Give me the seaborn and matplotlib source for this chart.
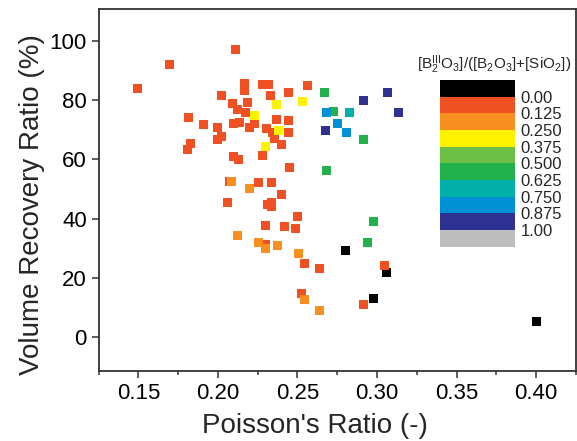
import numpy as np
import pandas as pd
import matplotlib
matplotlib.use("Agg")
import matplotlib.pyplot as plt
import seaborn as sns
from matplotlib.colors import ListedColormap, BoundaryNorm
from matplotlib.cm import ScalarMappable
from matplotlib.ticker import MultipleLocator

# Poisson's ratio / volume recovery ratio, grouped by [BIII2O3]/([B2O3]+[SiO2])
x_000 = [0.280, 0.306, 0.298, 0.400]
y_000 = [29.1, 22.0, 13.0, 5.2]

x_125 = [0.1495, 0.1697, 0.2108, 0.1816, 0.1906, 0.2000, 0.2020, 0.2093, 0.2100, 0.2135,
         0.2020, 0.1995, 0.2169, 0.2169, 0.2282, 0.2320, 0.2333, 0.2442, 0.2561, 0.2188,
         0.2121, 0.2173, 0.2368, 0.2441, 0.2198, 0.2230, 0.2307, 0.2346, 0.2442, 0.2356,
         0.2398, 0.1827, 0.1810, 0.2100, 0.2131, 0.2277, 0.2450, 0.2072, 0.2257, 0.2339,
         0.2398, 0.2057, 0.2314, 0.2339, 0.2339, 0.2497, 0.2296, 0.2421, 0.2489, 0.2297,
         0.2547, 0.2639, 0.2528, 0.3050, 0.2918]
y_125 = [83.8, 91.9, 97.0, 74.3, 71.9, 70.9, 81.5, 79.0, 72.0, 72.3,
         67.7, 66.8, 85.7, 83.1, 85.2, 85.2, 81.5, 82.4, 85.0, 79.2,
         76.7, 75.8, 73.6, 73.0, 70.9, 72.0, 70.5, 69.0, 69.0, 67.2,
         64.9, 65.3, 63.5, 61.1, 60.1, 61.4, 57.1, 52.7, 52.3, 52.3,
         48.1, 45.6, 44.7, 45.4, 44.0, 40.9, 37.8, 37.5, 36.8, 31.4,
         24.9, 23.3, 14.6, 24.1, 11.2]

x_250 = [0.2087, 0.2198, 0.2120, 0.2258, 0.2297, 0.2377, 0.2509, 0.2547, 0.2639]
y_250 = [52.7, 50.3, 34.3, 32.0, 30.1, 30.8, 28.1, 12.6, 9.0]

x_375 = [0.2227, 0.2368, 0.2534, 0.2379, 0.2301]
y_375 = [74.9, 78.4, 79.7, 69.6, 64.5]

x_625 = [0.2671, 0.2727, 0.2912, 0.2680, 0.2981, 0.2937]
y_625 = [82.7, 76.0, 66.6, 56.2, 38.9, 31.8]

x_750 = [0.2828]
y_750 = [75.9]

x_875 = [0.2685, 0.2754, 0.2811]
y_875 = [75.8, 72.0, 69.0]

x_100 = [0.3069, 0.2912, 0.3137, 0.2674]
y_100 = [82.7, 79.9, 75.7, 69.9]

bar_colors = ['#000000', '#F05123', '#F7901E', '#FFF200', '#6DBE45',
              '#22B14C', '#00B0A9', '#0090D6', '#2E3192', '#BEBEBE']
bar_labels = ['0.00', '0.125', '0.250', '0.375', '0.500', '0.625', '0.750', '0.875', '1.00']

groups = {
    'g0': (x_000, y_000, bar_colors[0]),
    'g1': (x_125, y_125, bar_colors[1]),
    'g2': (x_250, y_250, bar_colors[2]),
    'g3': (x_375, y_375, bar_colors[3]),
    'g5': (x_625, y_625, bar_colors[5]),
    'g6': (x_750, y_750, bar_colors[6]),
    'g7': (x_875, y_875, bar_colors[7]),
    'g8': (x_100, y_100, bar_colors[8]),
}

rows = []
for g, (xs, ys, c) in groups.items():
    for a, b in zip(xs, ys):
        rows.append((a, b, g))
df = pd.DataFrame(rows, columns=['poisson', 'recovery', 'group'])
palette = {g: v[2] for g, v in groups.items()}

sns.set_style('ticks')
plt.rcParams['font.family'] = ['Liberation Sans', 'DejaVu Sans']
plt.rcParams['mathtext.fontset'] = 'custom'
plt.rcParams['mathtext.rm'] = 'Liberation Sans'
plt.rcParams['mathtext.it'] = 'Liberation Sans'

fig = plt.figure(figsize=(5.77, 4.41), dpi=100)
ax = fig.add_axes([0.171, 0.158, 0.827, 0.822])

sns.scatterplot(data=df, x='poisson', y='recovery', hue='group', palette=palette,
                marker='s', s=42, linewidth=0, legend=False, ax=ax, zorder=3)

ax.set_xlim(0.125, 0.425)
ax.set_ylim(-11.5, 110.8)
ax.xaxis.set_major_locator(MultipleLocator(0.05))
ax.xaxis.set_minor_locator(MultipleLocator(0.025))
ax.set_xticks([0.15, 0.20, 0.25, 0.30, 0.35, 0.40])
ax.set_xticklabels(['0.15', '0.20', '0.25', '0.30', '0.35', '0.40'])
ax.set_yticks([0, 20, 40, 60, 80, 100])
ax.tick_params(which='major', direction='out', length=5, width=1.1, labelsize=16,
               colors='#333333', labelcolor='black')
ax.tick_params(axis='x', which='minor', direction='out', length=3, width=1.1, colors='#333333')
for sp in ax.spines.values():
    sp.set_visible(True)
    sp.set_linewidth(1.3)
    sp.set_color('#333333')

ax.set_xlabel("Poisson's Ratio (-)", fontsize=20)
ax.set_ylabel('Volume Recovery Ratio (%)', fontsize=20)
ax.xaxis.set_label_coords(0.453, -0.116)
ax.yaxis.set_label_coords(-0.112, 0.459)

# discrete colour key
cax = fig.add_axes([0.7626, 0.4406, 0.130, 0.378])
cmap = ListedColormap(bar_colors)
norm = BoundaryNorm(np.arange(11), 10)
cb = fig.colorbar(ScalarMappable(norm=norm, cmap=cmap), cax=cax)
cb.outline.set_visible(False)
cax.invert_yaxis()
cb.set_ticks(np.arange(1, 10))
cb.set_ticklabels(bar_labels)
cax.minorticks_off()
cax.tick_params(length=0, pad=4, labelsize=12)
fig.text(494 / 577, 1 - 65 / 441,
         r'[B$^{\mathrm{III}}_{2}$O$_{3}$]/([B$_{2}$O$_{3}$]+[SiO$_{2}$])',
         fontsize=11, ha='center', va='center')

fig.savefig('out.png', dpi=100)
